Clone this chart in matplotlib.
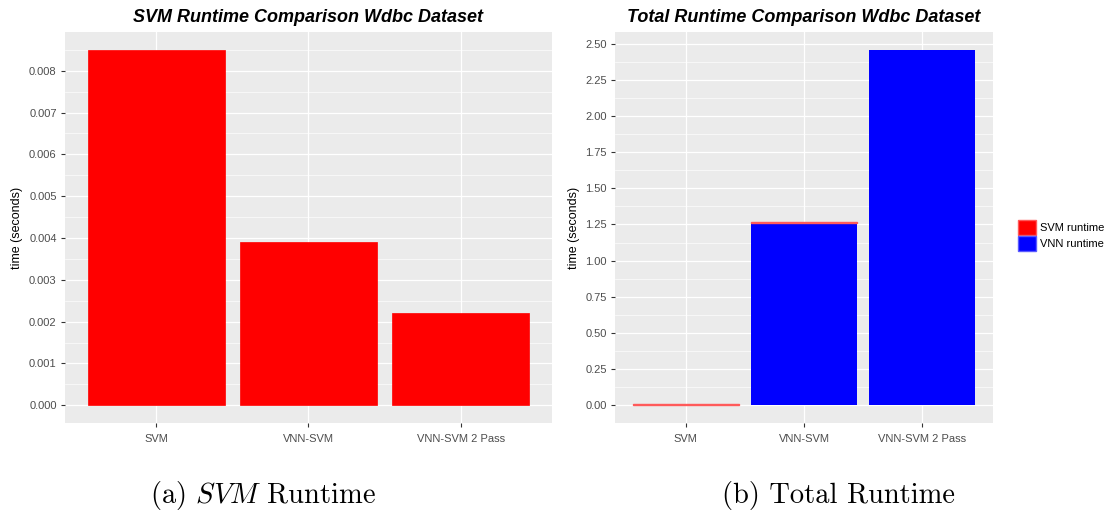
import matplotlib
matplotlib.use("Agg")
import matplotlib.pyplot as plt
import numpy as np
from matplotlib.patches import Patch
from matplotlib.ticker import MultipleLocator

# Data
CATEGORIES = ["SVM", "VNN-SVM", "VNN-SVM 2 Pass"]
SVM_RUNTIME = [0.0085, 0.0039, 0.0022]
VNN_RUNTIME = [0.0, 1.261, 2.456]
LEFT_TICKS = [0.000, 0.001, 0.002, 0.003, 0.004, 0.005, 0.006, 0.007, 0.008]
RIGHT_TICKS = [0.00, 0.25, 0.50, 0.75, 1.00, 1.25, 1.50, 1.75, 2.00, 2.25, 2.50]

BG = "#EBEBEB"
TICK_COLOR = "#4D4D4D"
RED = "#FF0000"
BLUE = "#0000FF"

plt.rcParams["font.family"] = ["Liberation Sans", "DejaVu Sans"]
plt.rcParams["mathtext.fontset"] = "cm"


def style_axes(ax, ticks, fmt, top):
    """Give an axes the ggplot grey look."""
    ax.set_facecolor(BG)
    for spine in ax.spines.values():
        spine.set_visible(False)
    ax.set_yticks(ticks)
    ax.set_yticklabels([fmt.format(t) for t in ticks])
    step = ticks[1] - ticks[0]
    ax.yaxis.set_minor_locator(MultipleLocator(step / 2))
    ax.set_ylim(-0.05 * top, 1.05 * top)
    ax.set_xlim(-0.6, len(CATEGORIES) - 0.4)
    ax.set_xticks(range(len(CATEGORIES)))
    ax.set_xticklabels(CATEGORIES)
    ax.grid(True, which="major", color="white", linewidth=0.9)
    ax.grid(True, which="minor", axis="y", color="white", linewidth=0.45)
    ax.set_axisbelow(True)
    ax.tick_params(axis="both", which="major", colors="#333333", labelcolor=TICK_COLOR,
                   labelsize=8, length=3, width=0.8, pad=3)
    ax.tick_params(axis="y", which="minor", length=0)
    ax.tick_params(axis="x", pad=5)
    ax.set_ylabel("time (seconds)", fontsize=9, color="black", labelpad=4)


fig = plt.figure(figsize=(11.09, 5.12), dpi=100)
ax1 = fig.add_axes([0.0586, 0.1738, 0.4391, 0.7637])
ax2 = fig.add_axes([0.5546, 0.1738, 0.3408, 0.7637])

x = np.arange(len(CATEGORIES))

# Left panel: SVM runtime only
ax1.bar(x, SVM_RUNTIME, width=0.9, color=RED, edgecolor=RED, linewidth=0.5)
style_axes(ax1, LEFT_TICKS, "{:.3f}", max(SVM_RUNTIME))
ax1.set_title("SVM Runtime Comparison Wdbc Dataset", fontsize=13,
              fontweight="bold", fontstyle="italic", pad=7)

# Right panel: stacked total runtime
ax2.bar(x, VNN_RUNTIME, width=0.9, color=BLUE, linewidth=0)
ax2.bar(x, SVM_RUNTIME, width=0.9, bottom=VNN_RUNTIME, color=RED,
        edgecolor="#FF5A5A", linewidth=[1.0, 1.0, 0.0])
totals = [a + b for a, b in zip(SVM_RUNTIME, VNN_RUNTIME)]
style_axes(ax2, RIGHT_TICKS, "{:.2f}", max(totals))
ax2.set_title("Total Runtime Comparison Wdbc Dataset", fontsize=13,
              fontweight="bold", fontstyle="italic", pad=7)

handles = [Patch(facecolor=RED, edgecolor="#FF5A5A", label="SVM runtime"),
           Patch(facecolor=BLUE, edgecolor="#5A5AFF", label="VNN runtime")]
fig.legend(handles=handles, loc="center left", bbox_to_anchor=(0.909, 0.54),
           frameon=False, fontsize=8, handlelength=1.6, handleheight=1.7,
           handletextpad=0.4, labelspacing=0.15)

# Sub-figure captions
fig.text(0.237, 0.033, r"(a) $SVM$ Runtime", fontsize=20.5, family="cmr10",
         ha="center", va="center")
fig.text(0.756, 0.033, "(b) Total Runtime", fontsize=20.5, family="cmr10",
         ha="center", va="center")

fig.savefig("out.png", dpi=100)
